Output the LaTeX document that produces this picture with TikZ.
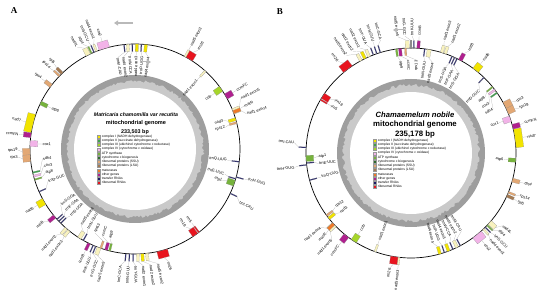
\documentclass[tikz,border=0pt]{standalone}
\usepackage{fontspec}
\setmainfont{Liberation Sans}
\newfontfamily\panelfont{Liberation Serif}
\usetikzlibrary{arrows.meta,positioning}
\definecolor{cI}   {HTML}{F2E400}
\definecolor{pale} {HTML}{F8F2BE}
\definecolor{cII}  {HTML}{3FA34D}
\definecolor{cIII} {HTML}{A6D62A}
\definecolor{cIV}  {HTML}{F2B3E8}
\definecolor{atp}  {HTML}{76B33C}
\definecolor{ccm}  {HTML}{2E6B2E}
\definecolor{ssu}  {HTML}{E3A874}
\definecolor{lsu}  {HTML}{A47A52}
\definecolor{mat}  {HTML}{F07A28}
\definecolor{other}{HTML}{B0208F}
\definecolor{trna} {HTML}{1A1A66}
\definecolor{rrna} {HTML}{E8141E}
\definecolor{ringout}{HTML}{9E9E9E}
\definecolor{ringin} {HTML}{C9C9C9}
\tikzset{
  gbox/.style     ={draw=black!45, line width=0.12pt, inner sep=0pt,
                    minimum width=7.5pt},
  glabel/.style   ={font=\fontsize{3.9}{4.3}\selectfont, inner sep=0.3pt},
  leader/.style   ={draw=gray!60, line width=0.2pt},
  backbone/.style ={line width=0.7pt},
  keybox/.style   ={draw=black!40, line width=0.1pt, minimum size=3pt,
                    inner sep=0pt},
  keytext/.style  ={font=\fontsize{3.3}{3.6}\selectfont, inner sep=0.4pt},
  dirarr/.style   ={-{Triangle[length=4pt,width=5pt]}, line width=1.5pt,
                    color=gray!55},
  panellabel/.style={font=\panelfont\bfseries\fontsize{9}{10}\selectfont},
}
% angle / label angle / strand (1 out, -1 in) / colour / width / name
\newcommand\genelist{%
 96/100.8/-1/trna/1/trnM-CAU,
 94/97/-1/pale/3/nad4 exon2,
 91.5/93.2/-1/trna/1/trnW-CCA,
 89/89.4/-1/cI/3/nad4 exon3,
 86.5/85.6/-1/trna/1/trnP-UGG,
 84/81.8/-1/cI/3/nad4 exon4,
 107/107/1/cIV/11/cox2,
 111.5/110.5/1/pale/2/nad4 exon1,
 113/113.5/1/trna/1/trnS-GCU,
 114.5/116.5/1/atp/1.5/atp4,
 116.5/119.5/1/pale/5/nad4L,
 134/133.5/1/lsu/3/rpl5,
 136/136.5/1/ssu/2/rps14,
 143/143/1/ssu/4/rps4,
 154/154/-1/atp/4/atp6,
 166/166/1/cI/19/nad7,
 172.5/173/1/other/5/ccmFN,
 177/177/-1/cIV/6/cox1,
 181.5/180.5/1/ssu/7/rps19,
 185/184/1/ssu/7/rps3,
 193/186/-1/cII/1.5/sdh4,
 195/190.5/-1/cIV/2/cox3,
 197/195/-1/atp/1.5/atp8,
 204/200.5/-1/trna/1/trnD-GUC,
 210/210/1/cI/7/nad6,
 220/218.5/1/other/4/mttB,
 222/217/-1/trna/1/trnS-GGA,
 223.5/221.5/-1/trna/1/trnF-GAA,
 225/226/-1/trna/1/trnS-UGA,
 229/227.5/1/pale/3/nad1 exon2,
 231/231.5/1/pale/3/nad1 exon3,
 238/234.5/-1/pale/4/nad5 exon4,
 240.5/239.5/-1/trna/1/trnN-GUU,
 244/244/1/other/3/ccmB,
 246.5/247.5/1/trna/1/trnK-UUU,
 248/251/1/trna/1/trnG-GCC,
 250/254.5/1/pale/4/nad5 exon5,
 251/244.5/-1/ssu/2/rps13,
 254/249.5/-1/other/3/ccmC,
 256/254.5/-1/atp/2/atp9,
 265/263/1/trna/1/trnC-GCA,
 267/266.7/1/trna/1/trnN-GUU,
 269/270.4/1/trna/1/trnY-GUA,
 271.5/274.1/1/pale/3/nad2 exon1,
 274/277.8/1/cI/3/nad2 exon2,
 276.5/281.5/1/pale/3/nad5 exon2,
 285/286.5/1/rrna/11/rrn26,
 305/303/-1/rrna/6/rrn18,
 307.5/307.5/-1/rrna/1.5/rrn5,
 335/333/1/trna/1/trnI-CAU,
 341/340/-1/atp/6/atp1,
 343.5/344.5/-1/trna/1/trnE-UUC,
 344.5/345/1/trna/1/trnH-GUG,
 353/353/-1/trna/1/trnQ-UUG,
 14.5/13.5/-1/ssu/2/rps12,
 16.5/18/-1/cI/3/nad3,
 20/17.5/1/pale/2/nad1 exon4,
 21/21.5/1/mat/5/matR,
 22/25.5/1/pale/2/nad1 exon5,
 30/30/1/other/6/ccmFC,
 35/35/-1/cIII/6/cob,
 48/48/-1/pale/2/nad1 exon1,
 59/57.5/1/rrna/8/rrn26,
 61.5/61.5/1/pale/2/nad5 exon3}
\newcommand\keylist{%
 cI/complex I (NADH dehydrogenase),
 cII/complex II (succinate dehydrogenase),
 cIII/complex III (ubichinol cytochrome c reductase),
 cIV/complex IV (cytochrome c oxidase),
 atp/ATP synthase,
 ccm/cytochrome c biogenesis,
 ssu/ribosomal proteins (SSU),
 lsu/ribosomal proteins (LSU),
 mat/maturases,
 other/other genes,
 trna/transfer RNAs,
 rrna/ribosomal RNAs}

\begin{document}
\begin{tikzpicture}[x=1pt,y=1pt]
  \useasboundingbox (0,0) rectangle (550,292);
  \pgfmathsetseed{11}

  \foreach \p/\cx/\cy/\rot in {A/135/143/0,B/411/139/-158}{
    \begin{scope}[shift={(\cx,\cy)}]
      \coordinate (\p) at (0,0);
      % GC ring
      \fill[ringout] (\p) circle (74);
      \fill[ringin] plot[domain=0:359,samples=240,variable=\q] (\q:{66.5+3*rnd}) -- cycle;
      \fill[white] (\p) circle (61);
      \draw[backbone] (\p) circle (105);
      % genes
      \foreach \a/\la/\s/\c/\w/\t [count=\i] in \genelist {
        \pgfmathsetmacro\fa{\a+\rot}
        \pgfmathsetmacro\fl{\la+\rot}
        \pgfmathsetmacro\lr{cos(\fl)<0 ? \fl+180 : \fl}
        \pgfmathtruncatemacro\wst{\s*cos(\fl)>-0.001}
        \ifnum\wst=1 \def\anc{west}\else\def\anc{east}\fi
        \ifnum\s=1 \def\gend{east}\else\def\gend{west}\fi
        \node[gbox, fill=\c, minimum height={\w*1pt}, rotate=\fa] (\p-g\i) at (\fa:{105+3.75*\s}) {};
        \node[glabel, rotate=\lr, anchor=\anc] (\p-l\i) at (\fl:{105+12*\s}) {\t};
        \draw[leader] (\p-g\i.\gend) -- (\p-l\i.\anc);
      }
      % legend
      \foreach \c/\t [count=\i] in \keylist {
        \node[keybox, fill=\c] (\p-k\i) at (-36, {12.5-4.2*(\i-1)}) {};
        \node[keytext, right=0.8pt of \p-k\i] (\p-t\i) {\t};
      }
    \end{scope}
  }

  \node[font=\fontsize{5.2}{6}\selectfont\bfseries\itshape] (A-name) at (136,177) {Matricaria chamomilla var recutita};
  \node[font=\fontsize{5.6}{6}\selectfont\bfseries] (A-kind) at (136,169) {mitochondrial genome};
  \node[font=\fontsize{5.4}{6}\selectfont\bfseries] (A-size) at (135,160) {233,503 bp};

  \node[font=\fontsize{7.6}{8}\selectfont\bfseries\itshape] (B-name) at (415,177) {Chamaemelum nobile};
  \node[font=\fontsize{7.8}{8}\selectfont\bfseries] (B-kind) at (415,167) {mitochondrial genome};
  \node[font=\fontsize{7.8}{8}\selectfont\bfseries] (B-size) at (415,158) {235,178 bp};

  \coordinate (A-d1) at (133,269);
  \coordinate (A-d2) at (114,269);
  \coordinate (A-d3) at (143,230);
  \coordinate (A-d4) at (151,230);
  \coordinate (B-d1) at (404,262);
  \coordinate (B-d2) at (393,262);
  \draw[dirarr] (A-d1) -- (A-d2);
  \draw[dirarr, line width=1pt] (A-d3) -- (A-d4);
  \draw[dirarr, line width=1pt] (B-d1) -- (B-d2);

  \node[panellabel] (lblA) at (14,281) {A};
  \node[panellabel] (lblB) at (280,280) {B};
\end{tikzpicture}
\end{document}
